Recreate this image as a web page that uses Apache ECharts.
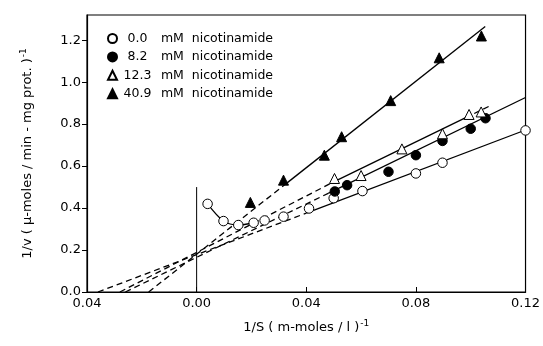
<!DOCTYPE html>
<html>
<head>
<meta charset="utf-8">
<script src="https://cdn.jsdelivr.net/npm/echarts@6/dist/echarts.min.js"></script>
<style>
html,body{margin:0;padding:0;background:#fff;}
#chart{width:543px;height:346px;}
</style>
</head>
<body>
<div id="chart"></div>
<script>
// ---- data ----
var concentrations = ['0.0', '8.2', '12.3', '40.9'];

var xs0 = [0.004, 0.0098, 0.0152, 0.0208, 0.0248, 0.0317, 0.041, 0.050, 0.0605, 0.080, 0.0897, 0.120];
var ys0 = [0.420, 0.338, 0.319, 0.330, 0.341, 0.359, 0.398, 0.447, 0.481, 0.565, 0.616, 0.770];

var xs82 = [0.0504, 0.0549, 0.0700, 0.0800, 0.0897, 0.1000, 0.1054, 0.1202];
var ys82 = [0.479, 0.509, 0.573, 0.652, 0.720, 0.778, 0.828, 0.927];

var xs123 = [0.0503, 0.0600, 0.0749, 0.0897, 0.0994, 0.1038];
var ys123 = [0.541, 0.555, 0.682, 0.754, 0.846, 0.858];

var xs409 = [0.0196, 0.0317, 0.0466, 0.0529, 0.0708, 0.0885, 0.1039];
var ys409 = [0.427, 0.533, 0.652, 0.740, 0.912, 1.116, 1.220];

// curve through the low-1/S points of 0.0 mM (first four points)
var curve0Count = 4;

// fitted lines: x / y break points ; seg styles ('d' dashed, 's' solid)
var fit0X = [-0.036, 0.040, 0.120];
var fit0Y = [0.000, 0.376, 0.772];
var fit0Seg = ['d', 's'];

var fit82X = [-0.026, 0.048, 0.120];
var fit82Y = [0.000, 0.470, 0.927];
var fit82Seg = ['d', 's'];

var fit123X = [-0.028, 0.050, 0.098, 0.1075];
var fit123Y = [0.000, 0.525, 0.830, 0.890];
var fit123Seg = ['d', 's', 'd'];

var fit409X = [-0.0175, 0.033, 0.1053];
var fit409Y = [0.000, 0.520, 1.265];
var fit409Seg = ['d', 's'];

var zeroLineX = [0, 0];
var zeroLineY = [0, 0.5];

var xTickValues = [-0.04, 0.00, 0.04, 0.08, 0.12];
var xTickLabels = ['0.04', '0.00', '0.04', '0.08', '0.12'];
var yTickValues = [0.0, 0.2, 0.4, 0.6, 0.8, 1.0, 1.2];
var yTickLabels = ['0.0', '0.2', '0.4', '0.6', '0.8', '1.0', '1.2'];

// ---- build ----
function pairs(xs, ys) { return xs.map(function (x, i) { return [x, ys[i]]; }); }

var FONT = 'DejaVu Sans';
var series = [];

function addFit(xs, ys, segs) {
  for (var i = 0; i < segs.length; i++) {
    series.push({
      type: 'line',
      data: [[xs[i], ys[i]], [xs[i + 1], ys[i + 1]]],
      showSymbol: false, symbol: 'none', silent: true, z: 2,
      lineStyle: { color: '#000', width: 1.3, type: segs[i] === 'd' ? [6, 4] : 'solid' }
    });
  }
}
addFit(fit0X, fit0Y, fit0Seg);
addFit(fit82X, fit82Y, fit82Seg);
addFit(fit123X, fit123Y, fit123Seg);
addFit(fit409X, fit409Y, fit409Seg);

series.push({
  type: 'line', data: pairs(xs0.slice(0, curve0Count), ys0.slice(0, curve0Count)),
  smooth: 0.3, showSymbol: false, symbol: 'none', z: 2,
  lineStyle: { color: '#000', width: 1.3 }
});
series.push({
  type: 'line', data: pairs(zeroLineX, zeroLineY), showSymbol: false, symbol: 'none', z: 1,
  lineStyle: { color: '#000', width: 1 }
});

var markerDefs = [
  { xs: xs0, ys: ys0, symbol: 'circle', fill: '#fff', size: 9.5 },
  { xs: xs82, ys: ys82, symbol: 'circle', fill: '#000', size: 9.5 },
  { xs: xs123, ys: ys123, symbol: 'triangle', fill: '#fff', size: 10 },
  { xs: xs409, ys: ys409, symbol: 'triangle', fill: '#000', size: 10 }
];
markerDefs.forEach(function (m, i) {
  series.push({
    name: concentrations[i], type: 'scatter', data: pairs(m.xs, m.ys),
    symbol: m.symbol, symbolSize: m.size, z: 5,
    itemStyle: { color: m.fill, borderColor: '#000', borderWidth: 1, opacity: 1 }
  });
});

var chart = echarts.init(document.getElementById('chart'), null, { renderer: 'canvas' });
chart.setOption({
  backgroundColor: '#fff',
  animation: false,
  grid: { left: 87, right: 15, top: 15, bottom: 54, show: true, borderColor: '#000', borderWidth: 1.2, backgroundColor: 'transparent' },
  legend: {
    show: true, orient: 'vertical', left: 102, top: 27, padding: 5,
    itemWidth: 9, itemHeight: 9, itemGap: 5.4,
    data: concentrations,
    formatter: function (name) { return '{n|' + name + '}  mM  nicotinamide'; },
    textStyle: {
      fontFamily: FONT, fontSize: 12.5, color: '#000', lineHeight: 12,
      rich: { n: { fontFamily: FONT, fontSize: 12.5, color: '#000', width: 31, align: 'right', lineHeight: 12 } }
    }
  },
  xAxis: {
    type: 'value', min: -0.04, max: 0.12, interval: 0.04,
    name: '1/S ( m-moles / l ){sup|-1}', nameLocation: 'middle', nameGap: 27,
    nameTextStyle: {
      fontFamily: FONT, fontSize: 13, color: '#000',
      rich: { sup: { fontFamily: FONT, fontSize: 9, color: '#000', padding: [0, 0, 9, 1] } }
    },
    axisLine: { show: true, onZero: false, lineStyle: { color: '#000', width: 1.2 } },
    axisTick: { show: true, inside: true, length: 5, lineStyle: { color: '#000' } },
    splitLine: { show: false },
    axisLabel: {
      fontFamily: FONT, fontSize: 13, color: '#000', margin: 5,
      formatter: function (v) {
        for (var i = 0; i < xTickValues.length; i++) if (Math.abs(v - xTickValues[i]) < 1e-6) return xTickLabels[i];
        return '';
      }
    }
  },
  yAxis: {
    type: 'value', min: 0, max: 1.32, interval: 0.2,
    name: '1/v ( µ-moles / min - mg prot. ){sup|-1}', nameLocation: 'middle', nameGap: 50, nameRotate: 90,
    nameTextStyle: {
      fontFamily: FONT, fontSize: 13, color: '#000',
      rich: { sup: { fontFamily: FONT, fontSize: 9, color: '#000', padding: [0, 0, 9, 1] } }
    },
    axisLine: { show: true, onZero: false, lineStyle: { color: '#000', width: 1.2 } },
    axisTick: { show: true, inside: false, length: 5, lineStyle: { color: '#000' }, customValues: yTickValues },
    splitLine: { show: false },
    axisLabel: {
      fontFamily: FONT, fontSize: 13, color: '#000', margin: 6, customValues: yTickValues,
      formatter: function (v) {
        for (var i = 0; i < yTickValues.length; i++) if (Math.abs(v - yTickValues[i]) < 1e-6) return yTickLabels[i];
        return '';
      }
    }
  },
  series: series
});
</script>
</body>
</html>
